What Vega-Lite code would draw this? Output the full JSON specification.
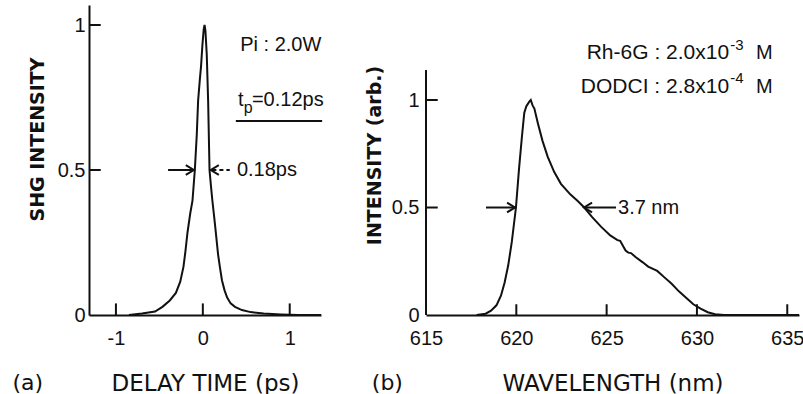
{
  "$schema": "https://vega.github.io/schema/vega-lite/v6.json",
  "padding": {"left": 12, "top": 5, "right": 0, "bottom": 0},
  "background": "white",
  "config": {
    "view": {"stroke": null},
    "axis": {
      "grid": false,
      "ticks": false,
      "domainColor": "#111",
      "domainWidth": 2,
      "labelFont": "Liberation Sans",
      "labelFontSize": 20,
      "labelColor": "#111",
      "titleColor": "#111",
      "labelFlush": false,
      "labelOverlap": false
    },
    "text": {"font": "Liberation Sans", "fontSize": 20, "color": "#111"}
  },
  "bounds": "flush",
  "spacing": 105,
  "hconcat": [
    {
      "width": 232,
      "height": 310,
      "layer": [
        {
          "data": {"values": [
            {"delay": -0.85, "intensity": 0.0},
            {"delay": -0.7, "intensity": 0.005},
            {"delay": -0.55, "intensity": 0.012},
            {"delay": -0.465, "intensity": 0.028},
            {"delay": -0.38, "intensity": 0.05},
            {"delay": -0.31, "intensity": 0.076},
            {"delay": -0.26, "intensity": 0.115},
            {"delay": -0.223, "intensity": 0.166},
            {"delay": -0.2, "intensity": 0.22},
            {"delay": -0.177, "intensity": 0.283},
            {"delay": -0.145, "intensity": 0.35},
            {"delay": -0.119, "intensity": 0.394},
            {"delay": -0.092, "intensity": 0.5},
            {"delay": -0.07, "intensity": 0.62},
            {"delay": -0.054, "intensity": 0.74},
            {"delay": -0.035, "intensity": 0.81},
            {"delay": -0.02, "intensity": 0.86},
            {"delay": -0.005, "intensity": 0.93},
            {"delay": 0.01, "intensity": 0.985},
            {"delay": 0.02, "intensity": 1.0},
            {"delay": 0.03, "intensity": 0.98},
            {"delay": 0.045, "intensity": 0.9},
            {"delay": 0.061, "intensity": 0.74},
            {"delay": 0.077, "intensity": 0.5},
            {"delay": 0.095, "intensity": 0.44},
            {"delay": 0.11, "intensity": 0.394},
            {"delay": 0.13, "intensity": 0.34},
            {"delay": 0.15, "intensity": 0.283},
            {"delay": 0.175, "intensity": 0.21},
            {"delay": 0.196, "intensity": 0.166},
            {"delay": 0.22, "intensity": 0.12},
            {"delay": 0.25, "intensity": 0.085},
            {"delay": 0.28, "intensity": 0.06},
            {"delay": 0.32, "intensity": 0.04},
            {"delay": 0.37, "intensity": 0.028},
            {"delay": 0.45, "intensity": 0.017},
            {"delay": 0.55, "intensity": 0.01},
            {"delay": 0.7, "intensity": 0.005},
            {"delay": 0.9, "intensity": 0.002},
            {"delay": 1.1, "intensity": 0.0},
            {"delay": 1.36, "intensity": 0.0}
          ]},
          "mark": {"type": "line", "color": "#111", "strokeWidth": 2, "clip": false},
          "encoding": {
            "x": {
              "field": "delay", "type": "quantitative",
              "scale": {"domain": [-1.31, 1.36], "nice": false, "zero": false},
              "axis": {
                "title": "DELAY TIME (ps)",
                "values": [-1, 0, 1],
                "labelExpr": "'' + datum.value",
                "labelPadding": 13,
                "titleFont": "DejaVu Sans",
                "titleFontSize": 23,
                "titleFontWeight": "normal",
                "titleBaseline": "alphabetic",
                "titleY": 75
              }
            },
            "y": {
              "field": "intensity", "type": "quantitative",
              "scale": {"domain": [0, 1.069], "nice": false},
              "axis": {
                "title": "SHG INTENSITY",
                "values": [0, 0.5, 1],
                "format": "~g",
                "labelPadding": 4,
                "titleFont": "DejaVu Sans",
                "titleFontSize": 19,
                "titleFontWeight": "bold",
                "titleBaseline": "alphabetic",
                "titleAlign": "center",
                "titleX": -46,
                "titleY": 134
              }
            }
          }
        },
        {
          "data": {"values": [
            {"delay": -1, "intensity": 0, "intensity2": 0.04},
            {"delay": 0, "intensity": 0, "intensity2": 0.04},
            {"delay": 1, "intensity": 0, "intensity2": 0.04}
          ]},
          "mark": {"type": "rule", "color": "#111", "strokeWidth": 2, "clip": false},
          "encoding": {
            "x": {"field": "delay", "type": "quantitative"},
            "y": {"field": "intensity", "type": "quantitative"},
            "y2": {"field": "intensity2"}
          }
        },
        {
          "data": {"values": [
            {"delay": -1.31, "delay2": -1.175, "intensity": 0.5},
            {"delay": -1.31, "delay2": -1.175, "intensity": 1},
            {"delay": -0.4, "delay2": -0.104, "intensity": 0.5},
            {"delay": 0.092, "delay2": 0.12, "intensity": 0.5},
            {"delay": 0.38, "delay2": 1.373, "intensity": 0.669}
          ]},
          "mark": {"type": "rule", "color": "#111", "strokeWidth": 2, "clip": false},
          "encoding": {
            "x": {"field": "delay", "type": "quantitative"},
            "x2": {"field": "delay2"},
            "y": {"field": "intensity", "type": "quantitative"}
          }
        },
        {
          "data": {"values": [
            {"delay": 0.11, "delay2": 0.31, "intensity": 0.5}
          ]},
          "mark": {"type": "rule", "color": "#111", "strokeWidth": 2, "strokeDash": [4, 3], "clip": false},
          "encoding": {
            "x": {"field": "delay", "type": "quantitative"},
            "x2": {"field": "delay2"},
            "y": {"field": "intensity", "type": "quantitative"}
          }
        },
        {
          "data": {"values": [{"delay": -0.104, "intensity": 0.5}]},
          "mark": {"type": "point", "shape": "M-1,-0.6L0,0L-1,0.6", "filled": false, "color": "#111", "strokeWidth": 2, "size": 256, "opacity": 1, "clip": false},
          "encoding": {
            "x": {"field": "delay", "type": "quantitative"},
            "y": {"field": "intensity", "type": "quantitative"}
          }
        },
        {
          "data": {"values": [{"delay": 0.092, "intensity": 0.5}]},
          "mark": {"type": "point", "shape": "M1,-0.6L0,0L1,0.6", "filled": false, "color": "#111", "strokeWidth": 2, "size": 256, "opacity": 1, "clip": false},
          "encoding": {
            "x": {"field": "delay", "type": "quantitative"},
            "y": {"field": "intensity", "type": "quantitative"}
          }
        },
        {
          "data": {"values": [
            {"delay": 0.43, "intensity": 0.931, "label": "Pi : 2.0W"},
            {"delay": 0.404, "intensity": 0.741, "label": "t"},
            {"delay": 0.565, "intensity": 0.741, "label": "=0.12ps"},
            {"delay": 0.392, "intensity": 0.5, "label": "0.18ps"}
          ]},
          "mark": {"type": "text", "align": "left", "baseline": "middle", "fontSize": 20, "clip": false},
          "encoding": {
            "x": {"field": "delay", "type": "quantitative"},
            "y": {"field": "intensity", "type": "quantitative"},
            "text": {"field": "label"}
          }
        },
        {
          "data": {"values": [
            {"delay": 0.47, "intensity": 0.715, "label": "p"}
          ]},
          "mark": {"type": "text", "align": "left", "baseline": "middle", "fontSize": 16, "clip": false},
          "encoding": {
            "x": {"field": "delay", "type": "quantitative"},
            "y": {"field": "intensity", "type": "quantitative"},
            "text": {"field": "label"}
          }
        },
        {
          "data": {"values": [
            {"delay": -2.19, "intensity": -0.259, "label": "(a)"}
          ]},
          "mark": {"type": "text", "align": "left", "baseline": "alphabetic", "font": "DejaVu Sans", "fontSize": 22, "clip": false},
          "encoding": {
            "x": {"field": "delay", "type": "quantitative"},
            "y": {"field": "intensity", "type": "quantitative"},
            "text": {"field": "label"}
          }
        }
      ]
    },
    {
      "width": 373,
      "height": 310,
      "layer": [
        {
          "data": {"values": [
            {"wavelength": 617.8, "intensity": 0.0},
            {"wavelength": 618.3, "intensity": 0.006},
            {"wavelength": 618.6, "intensity": 0.02},
            {"wavelength": 618.9, "intensity": 0.045},
            {"wavelength": 619.15, "intensity": 0.09},
            {"wavelength": 619.35, "intensity": 0.15},
            {"wavelength": 619.55, "intensity": 0.23},
            {"wavelength": 619.75, "intensity": 0.34},
            {"wavelength": 619.98, "intensity": 0.5},
            {"wavelength": 620.15, "intensity": 0.68},
            {"wavelength": 620.3, "intensity": 0.82},
            {"wavelength": 620.44, "intensity": 0.94},
            {"wavelength": 620.55, "intensity": 0.97},
            {"wavelength": 620.7, "intensity": 0.99},
            {"wavelength": 620.8, "intensity": 1.0},
            {"wavelength": 620.9, "intensity": 0.975},
            {"wavelength": 621.0, "intensity": 0.96},
            {"wavelength": 621.2, "intensity": 0.89},
            {"wavelength": 621.45, "intensity": 0.81},
            {"wavelength": 621.74, "intensity": 0.736},
            {"wavelength": 622.1, "intensity": 0.665},
            {"wavelength": 622.47, "intensity": 0.61},
            {"wavelength": 623.0, "intensity": 0.56},
            {"wavelength": 623.4, "intensity": 0.53},
            {"wavelength": 623.76, "intensity": 0.5},
            {"wavelength": 624.2, "intensity": 0.455},
            {"wavelength": 624.7, "intensity": 0.41},
            {"wavelength": 625.2, "intensity": 0.37},
            {"wavelength": 625.6, "intensity": 0.348},
            {"wavelength": 625.75, "intensity": 0.345},
            {"wavelength": 625.9, "intensity": 0.322},
            {"wavelength": 626.05, "intensity": 0.3},
            {"wavelength": 626.2, "intensity": 0.29},
            {"wavelength": 626.35, "intensity": 0.288},
            {"wavelength": 626.6, "intensity": 0.27},
            {"wavelength": 627.0, "intensity": 0.245},
            {"wavelength": 627.3, "intensity": 0.225},
            {"wavelength": 627.8, "intensity": 0.205},
            {"wavelength": 628.2, "intensity": 0.175},
            {"wavelength": 628.6, "intensity": 0.145},
            {"wavelength": 629.0, "intensity": 0.11},
            {"wavelength": 629.4, "intensity": 0.08},
            {"wavelength": 629.8, "intensity": 0.05},
            {"wavelength": 630.2, "intensity": 0.03},
            {"wavelength": 630.6, "intensity": 0.013},
            {"wavelength": 631.0, "intensity": 0.004},
            {"wavelength": 631.5, "intensity": 0.0},
            {"wavelength": 635.65, "intensity": 0.0}
          ]},
          "mark": {"type": "line", "color": "#111", "strokeWidth": 2, "clip": false},
          "encoding": {
            "x": {
              "field": "wavelength", "type": "quantitative",
              "scale": {"domain": [615, 635.65], "nice": false, "zero": false},
              "axis": {
                "title": "WAVELENGTH (nm)",
                "values": [615, 620, 625, 630, 635],
                "format": "d",
                "labelPadding": 13,
                "titleFont": "DejaVu Sans",
                "titleFontSize": 23,
                "titleFontWeight": "normal",
                "titleBaseline": "alphabetic",
                "titleY": 75
              }
            },
            "y": {
              "field": "intensity", "type": "quantitative",
              "scale": {"domain": [0, 1.442], "nice": false},
              "axis": {
                "title": "INTENSITY (arb.)",
                "values": [0, 0.5, 1],
                "format": "~g",
                "domain": false,
                "labelPadding": 7,
                "titleFont": "DejaVu Sans",
                "titleFontSize": 19,
                "titleFontWeight": "bold",
                "titleBaseline": "alphabetic",
                "titleAlign": "center",
                "titleX": -46,
                "titleY": 150
              }
            }
          }
        },
        {
          "data": {"values": [
            {"wavelength": 615, "intensity": 0, "intensity2": 1.14},
            {"wavelength": 620, "intensity": 0, "intensity2": 0.05},
            {"wavelength": 625, "intensity": 0, "intensity2": 0.05},
            {"wavelength": 630, "intensity": 0, "intensity2": 0.05},
            {"wavelength": 635, "intensity": 0, "intensity2": 0.05}
          ]},
          "mark": {"type": "rule", "color": "#111", "strokeWidth": 2, "clip": false},
          "encoding": {
            "x": {"field": "wavelength", "type": "quantitative"},
            "y": {"field": "intensity", "type": "quantitative"},
            "y2": {"field": "intensity2"}
          }
        },
        {
          "data": {"values": [
            {"wavelength": 615, "wavelength2": 615.65, "intensity": 0.5},
            {"wavelength": 615, "wavelength2": 615.65, "intensity": 1},
            {"wavelength": 618.32, "wavelength2": 619.93, "intensity": 0.5},
            {"wavelength": 623.75, "wavelength2": 625.52, "intensity": 0.5}
          ]},
          "mark": {"type": "rule", "color": "#111", "strokeWidth": 2, "clip": false},
          "encoding": {
            "x": {"field": "wavelength", "type": "quantitative"},
            "x2": {"field": "wavelength2"},
            "y": {"field": "intensity", "type": "quantitative"}
          }
        },
        {
          "data": {"values": [{"wavelength": 619.93, "intensity": 0.5}]},
          "mark": {"type": "point", "shape": "M-1,-0.6L0,0L-1,0.6", "filled": false, "color": "#111", "strokeWidth": 2, "size": 256, "opacity": 1, "clip": false},
          "encoding": {
            "x": {"field": "wavelength", "type": "quantitative"},
            "y": {"field": "intensity", "type": "quantitative"}
          }
        },
        {
          "data": {"values": [{"wavelength": 623.75, "intensity": 0.5}]},
          "mark": {"type": "point", "shape": "M1,-0.6L0,0L1,0.6", "filled": false, "color": "#111", "strokeWidth": 2, "size": 256, "opacity": 1, "clip": false},
          "encoding": {
            "x": {"field": "wavelength", "type": "quantitative"},
            "y": {"field": "intensity", "type": "quantitative"}
          }
        },
        {
          "data": {"values": [
            {"wavelength": 631.78, "intensity": 1.219, "label": "Rh-6G : 2.0x10"},
            {"wavelength": 631.78, "intensity": 1.06, "label": "DODCI : 2.8x10"}
          ]},
          "mark": {"type": "text", "align": "right", "baseline": "middle", "fontSize": 21, "clip": false},
          "encoding": {
            "x": {"field": "wavelength", "type": "quantitative"},
            "y": {"field": "intensity", "type": "quantitative"},
            "text": {"field": "label"}
          }
        },
        {
          "data": {"values": [
            {"wavelength": 631.85, "intensity": 1.256, "label": "-3"},
            {"wavelength": 631.85, "intensity": 1.102, "label": "-4"}
          ]},
          "mark": {"type": "text", "align": "left", "baseline": "middle", "fontSize": 15, "clip": false},
          "encoding": {
            "x": {"field": "wavelength", "type": "quantitative"},
            "y": {"field": "intensity", "type": "quantitative"},
            "text": {"field": "label"}
          }
        },
        {
          "data": {"values": [
            {"wavelength": 633.27, "intensity": 1.219, "label": "M"},
            {"wavelength": 633.27, "intensity": 1.06, "label": "M"},
            {"wavelength": 625.63, "intensity": 0.5, "label": "3.7 nm"}
          ]},
          "mark": {"type": "text", "align": "left", "baseline": "middle", "fontSize": 20, "clip": false},
          "encoding": {
            "x": {"field": "wavelength", "type": "quantitative"},
            "y": {"field": "intensity", "type": "quantitative"},
            "text": {"field": "label"}
          }
        },
        {
          "data": {"values": [
            {"wavelength": 612.0, "intensity": -0.349, "label": "(b)"}
          ]},
          "mark": {"type": "text", "align": "left", "baseline": "alphabetic", "font": "DejaVu Sans", "fontSize": 22, "clip": false},
          "encoding": {
            "x": {"field": "wavelength", "type": "quantitative"},
            "y": {"field": "intensity", "type": "quantitative"},
            "text": {"field": "label"}
          }
        }
      ]
    }
  ]
}
